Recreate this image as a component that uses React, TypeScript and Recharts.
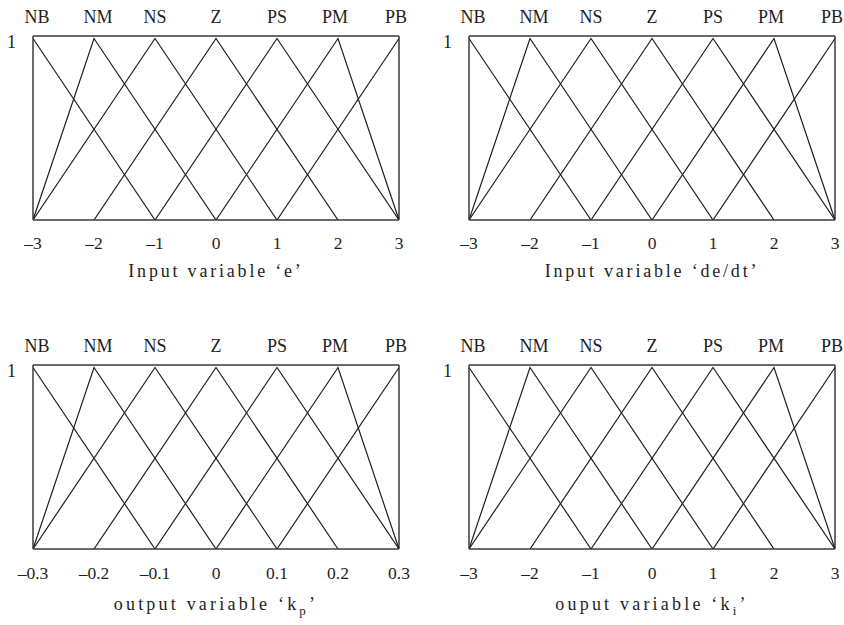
import React from 'react';
import { LineChart, Line, XAxis, YAxis, ReferenceLine } from 'recharts';

// Linguistic terms, left to right
const TERMS = ['NB', 'NM', 'NS', 'Z', 'PS', 'PM', 'PB'];
// Small horizontal nudges of the term labels so the outer ones stay inside the frame
const TERM_NUDGE = [4, 4, 0, 0, 0, -3, -3];

// Tick values of each universe of discourse
const TICKS_E = [-3, -2, -1, 0, 1, 2, 3];
const TICKS_DE = [-3, -2, -1, 0, 1, 2, 3];
const TICKS_KP = [-0.3, -0.2, -0.1, 0, 0.1, 0.2, 0.3];
const TICKS_KI = [-3, -2, -1, 0, 1, 2, 3];

// Breakpoints of each membership function: [tick index, membership degree]
const NB_PTS = [[0, 1], [2, 0]];
const NM_PTS = [[0, 0], [1, 1], [3, 0]];
const NS_PTS = [[0, 0], [2, 1], [4, 0]];
const Z_PTS = [[1, 0], [3, 1], [5, 0]];
const PS_PTS = [[2, 0], [4, 1], [6, 0]];
const PM_PTS = [[3, 0], [5, 1], [6, 0]];
const PB_PTS = [[4, 0], [6, 1]];
const TERM_PTS = [NB_PTS, NM_PTS, NS_PTS, Z_PTS, PS_PTS, PM_PTS, PB_PTS];

// Axis captions (main text, subscript, trailing text)
const TITLE_MAIN = ['Input variable \u2018e\u2019', 'Input variable \u2018de/dt\u2019', 'output variable \u2018k', 'ouput variable \u2018k'];
const TITLE_SUB = ['', '', 'p', 'i'];
const TITLE_TAIL = ['', '', '\u2019', '\u2019'];

const Y_TOP = 1.014;
const FONT = '"Liberation Serif", "Times New Roman", serif';
const INK = '#1e1e1e';
const FRAME = '#3a3a3a';

const fmtTick = (v: number) => (v < 0 ? '\u2013' + String(Math.abs(v)) : String(v));

type PanelProps = {
  ticks: number[];
  idx: number;
  left: number;
  top: number;
  width: number;
  height: number;
  margin: { top: number; right: number; bottom: number; left: number };
  titleDy: number;
  tickDy: number;
  titleSpacing: number;
};

function Panel({ ticks, idx, left, top, width, height, margin, titleDy, tickDy, titleSpacing }: PanelProps) {
  const series = TERM_PTS.map((pts) => pts.map(([i, mu]) => ({ x: ticks[i], mu })));
  const domain = [ticks[0], ticks[ticks.length - 1]];

  const bottomTick = (p: any) => (
    <text x={p.x} y={p.y + tickDy} textAnchor="middle" fontFamily={FONT} fontSize={17.5} fill={INK}>
      {fmtTick(p.payload.value)}
    </text>
  );
  const topTick = (p: any) => (
    <text x={p.x + TERM_NUDGE[p.index]} y={p.y - 13} textAnchor="middle" fontFamily={FONT} fontSize={18} fill={INK}>
      {TERMS[p.index]}
    </text>
  );
  const leftTick = (p: any) => (
    <text x={p.x} y={p.y + 9} textAnchor="end" fontFamily={FONT} fontSize={18} fill={INK}>
      {String(p.payload.value)}
    </text>
  );
  const titleContent = (p: any) => {
    const vb = p.viewBox || { x: 0, y: 0, width: 0 };
    const cx = vb.x + vb.width / 2;
    return (
      <text x={cx} y={vb.y + titleDy} textAnchor="middle" fontFamily={FONT} fontSize={18} fill={INK} letterSpacing={titleSpacing}>
        <tspan>{TITLE_MAIN[idx]}</tspan>
        {TITLE_SUB[idx] ? (
          <tspan dy={5} fontSize={13}>{TITLE_SUB[idx]}</tspan>
        ) : null}
        {TITLE_TAIL[idx] ? <tspan dy={-5}>{TITLE_TAIL[idx]}</tspan> : null}
      </text>
    );
  };

  return (
    <div style={{ position: 'absolute', left, top, width, height }}>
      <LineChart width={width} height={height} margin={margin}>
        <XAxis
          dataKey="x"
          type="number"
          domain={domain}
          ticks={ticks}
          interval={0}
          allowDataOverflow
          tickSize={0}
          tickMargin={0}
          tickLine={false}
          height={50}
          axisLine={{ stroke: FRAME, strokeWidth: 1.5 }}
          tick={bottomTick}
          label={{ content: titleContent }}
        />
        <XAxis
          xAxisId="top"
          orientation="top"
          dataKey="x"
          type="number"
          domain={domain}
          ticks={ticks}
          interval={0}
          allowDataOverflow
          tickSize={0}
          tickMargin={0}
          tickLine={false}
          height={20}
          axisLine={{ stroke: FRAME, strokeWidth: 1.5 }}
          tick={topTick}
        />
        <YAxis
          type="number"
          domain={[0, Y_TOP]}
          ticks={[1]}
          allowDataOverflow
          width={20}
          tickSize={0}
          tickMargin={17}
          tickLine={false}
          axisLine={{ stroke: FRAME, strokeWidth: 1.5 }}
          tick={leftTick}
        />
        <ReferenceLine x={domain[1]} stroke={FRAME} strokeWidth={1.5} ifOverflow="visible" />
        {series.map((d, i) => (
          <Line
            key={TERMS[i]}
            data={d}
            dataKey="mu"
            type="linear"
            stroke={INK}
            strokeWidth={1.2}
            dot={false}
            activeDot={false}
            isAnimationActive={false}
          />
        ))}
      </LineChart>
    </div>
  );
}

export default function App() {
  return (
    <div style={{ position: 'absolute', left: 0, top: 0, width: 844, height: 625, background: '#fff' }}>
      <Panel ticks={TICKS_E} idx={0} left={0} top={0} width={422} height={300}
        margin={{ top: 16, right: 23, bottom: 30, left: 13 }} titleDy={57} tickDy={29} titleSpacing={2.8} />
      <Panel ticks={TICKS_DE} idx={1} left={422} top={0} width={422} height={300}
        margin={{ top: 16, right: 9, bottom: 30, left: 27 }} titleDy={57} tickDy={29} titleSpacing={2.8} />
      <Panel ticks={TICKS_KP} idx={2} left={0} top={300} width={422} height={325}
        margin={{ top: 45, right: 23, bottom: 26, left: 13 }} titleDy={61} tickDy={29.5} titleSpacing={3.2} />
      <Panel ticks={TICKS_KI} idx={3} left={422} top={300} width={422} height={325}
        margin={{ top: 45, right: 9, bottom: 26, left: 27 }} titleDy={61} tickDy={29.5} titleSpacing={3.2} />
    </div>
  );
}
